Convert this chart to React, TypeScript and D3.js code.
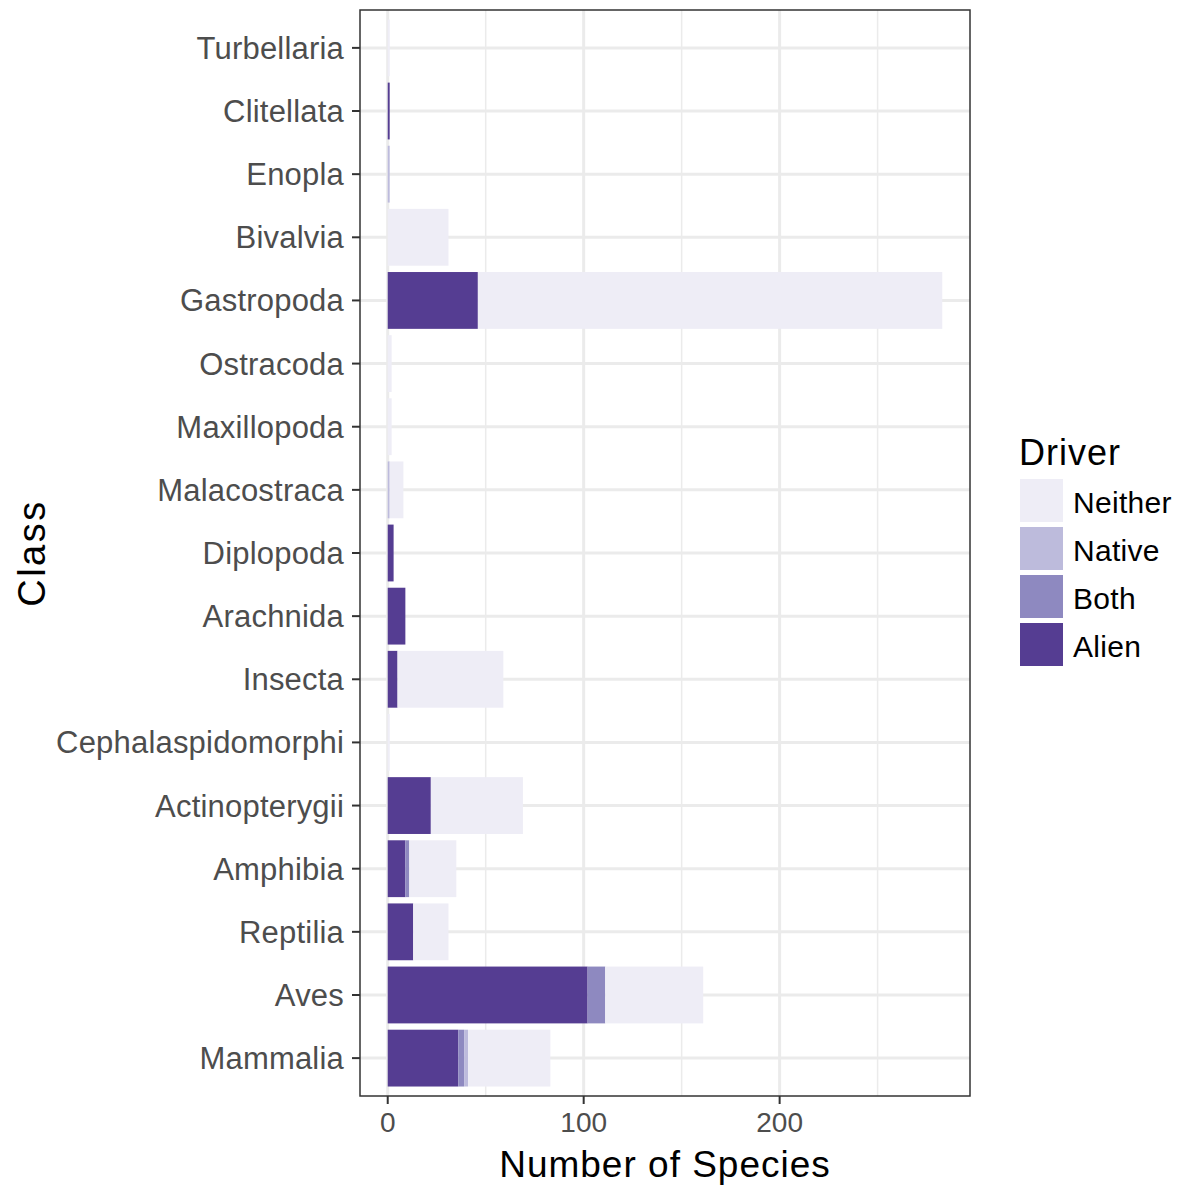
import React from 'react';
import * as d3 from 'd3';

const classes = [
  'Turbellaria', 'Clitellata', 'Enopla', 'Bivalvia', 'Gastropoda', 'Ostracoda',
  'Maxillopoda', 'Malacostraca', 'Diplopoda', 'Arachnida', 'Insecta',
  'Cephalaspidomorphi', 'Actinopterygii', 'Amphibia', 'Reptilia', 'Aves', 'Mammalia',
];
const alien = [0, 1, 0, 0, 46, 0, 0, 0, 3, 9, 5, 0, 22, 9, 13, 102, 36];
const both = [0, 0, 0, 0, 0, 0, 0, 0, 0, 0, 0, 0, 0, 2, 0, 9, 3];
const native = [0, 0, 1, 0, 0, 0, 0, 1, 0, 0, 0, 0, 0, 0, 0, 0, 2];
const neither = [1, 0, 0, 31, 237, 2, 2, 7, 0, 0, 54, 1, 47, 24, 18, 50, 42];

const drivers = ['Alien', 'Both', 'Native', 'Neither'];
const legendOrder = ['Neither', 'Native', 'Both', 'Alien'];
const colors: Record<string, string> = {
  Alien: '#553d92',
  Both: '#8e89c0',
  Native: '#bdbbdc',
  Neither: '#eeedf6',
};
const xTicks = [0, 100, 200];
const xMinor = [50, 150, 250];

const font = '"Liberation Sans", Arial, Helvetica, sans-serif';

const App = () => {
  const left = 360, right = 970, top = 10, bottom = 1096;

  const rows = classes.map((c, i) => ({
    cls: c, Alien: alien[i], Both: both[i], Native: native[i], Neither: neither[i],
  }));
  const totals = rows.map(r => r.Alien + r.Both + r.Native + r.Neither);
  const maxV = d3.max(totals) as number;

  const x = d3.scaleLinear()
    .domain([-0.05 * maxV, 1.05 * maxV])
    .range([left, right]);

  const y = d3.scalePoint<string>()
    .domain(classes)
    .range([top, bottom])
    .padding(0.6);
  const barH = y.step() * 0.9;

  const series = d3.stack<any>().keys(drivers)(rows);

  return (
    <svg width={1184} height={1189} style={{ position: 'absolute', left: 0, top: 0 }} fontFamily={font}>
      <rect x={0} y={0} width={1184} height={1189} fill="#fff" />
      {/* grid */}
      <g>
        {xMinor.map(t => (
          <line key={'mn' + t} x1={x(t)} x2={x(t)} y1={top} y2={bottom} stroke="#ebebeb" strokeWidth={1.5} />
        ))}
        {xTicks.map(t => (
          <line key={'mj' + t} x1={x(t)} x2={x(t)} y1={top} y2={bottom} stroke="#ebebeb" strokeWidth={3} />
        ))}
        {classes.map(c => (
          <line key={'hg' + c} x1={left} x2={right} y1={y(c)} y2={y(c)} stroke="#ebebeb" strokeWidth={3} />
        ))}
      </g>
      {/* bars */}
      <g>
        {series.map(s => (
          <g key={s.key} fill={colors[s.key]}>
            {s.map((d, i) => d[1] - d[0] > 0 ? (
              <rect key={i} x={x(d[0])} width={x(d[1]) - x(d[0])}
                y={(y(classes[i]) as number) - barH / 2} height={barH} />
            ) : null)}
          </g>
        ))}
      </g>
      {/* panel border */}
      <rect x={left} y={top} width={right - left} height={bottom - top} fill="none" stroke="#333" strokeWidth={1.5} />
      {/* y axis */}
      <g>
        {classes.map(c => (
          <g key={'yt' + c}>
            <line x1={left - 8} x2={left} y1={y(c)} y2={y(c)} stroke="#333" strokeWidth={2} />
            <text x={left - 16} y={(y(c) as number) + 11} textAnchor="end" fontSize={31} letterSpacing={0.2} fill="#4d4d4d">{c}</text>
          </g>
        ))}
      </g>
      {/* x axis */}
      <g>
        {xTicks.map(t => (
          <g key={'xt' + t}>
            <line x1={x(t)} x2={x(t)} y1={bottom} y2={bottom + 8} stroke="#333" strokeWidth={2} />
            <text x={x(t)} y={1132} textAnchor="middle" fontSize={28} fill="#4d4d4d">{t}</text>
          </g>
        ))}
      </g>
      <text x={(left + right) / 2} y={1177} textAnchor="middle" fontSize={37} letterSpacing={1} fill="#000">Number of Species</text>
      <text transform={`translate(45,${(top + bottom) / 2}) rotate(-90)`} textAnchor="middle" fontSize={38} letterSpacing={2.5} fill="#000">Class</text>
      {/* legend */}
      <g>
        <text x={1019} y={465} fontSize={36} letterSpacing={1} fill="#000">Driver</text>
        {legendOrder.map((k, i) => (
          <g key={'lg' + k}>
            <rect x={1020} y={479 + i * 48} width={43} height={43} fill={colors[k]} />
            <text x={1073} y={479 + i * 48 + 34} fontSize={30} letterSpacing={0.3} fill="#000">{k}</text>
          </g>
        ))}
      </g>
    </svg>
  );
};

export default App;
